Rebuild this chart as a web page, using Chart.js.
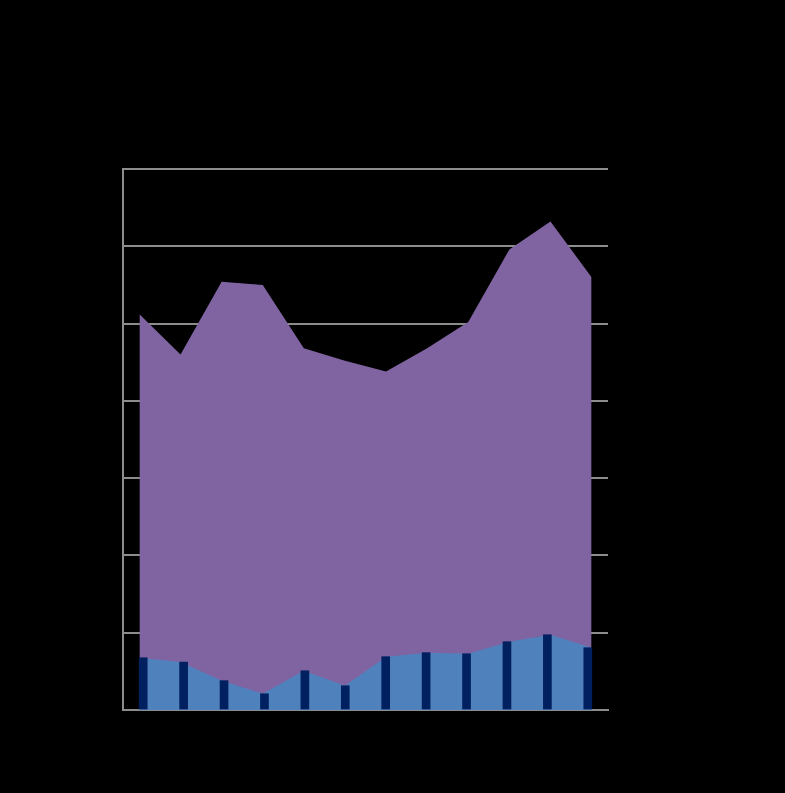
<!DOCTYPE html>
<html>
<head>
<meta charset="utf-8">
<script src="https://cdn.jsdelivr.net/npm/chart.js@4"></script>
<style>
  html, body { margin: 0; padding: 0; background: #000; }
  canvas { display: block; }
</style>
</head>
<body>
<canvas id="c" width="785" height="793"></canvas>
<script>
const categories = ["Jan","Feb","Mar","Apr","May","Jun","Jul","Aug","Sep","Oct","Nov","Dec"];
const totalValues = [25.6, 23.0, 27.7, 27.5, 23.4, 22.6, 21.9, 23.4, 25.1, 29.8, 31.6, 28.0];
const baseValues  = [3.38, 3.10, 1.90, 1.05, 2.54, 1.57, 3.45, 3.71, 3.64, 4.42, 4.87, 4.03];
const yTicks = [0, 5, 10, 15, 20, 25, 30, 35];

const toPoints = arr => arr.map((v, i) => ({ x: i, y: v }));

new Chart(document.getElementById('c'), {
  data: {
    labels: categories,
    datasets: [
      {
        type: 'bar',
        label: 'Series 3',
        data: baseValues,
        backgroundColor: '#002060',
        barThickness: 8,
        grouped: false,
        xAxisID: 'x',
        yAxisID: 'y',
        order: 0
      },
      {
        type: 'line',
        label: 'Series 2',
        data: toPoints(baseValues),
        backgroundColor: '#4f81bd',
        borderWidth: 0,
        pointRadius: 0,
        tension: 0,
        fill: 'origin',
        xAxisID: 'x2',
        yAxisID: 'y',
        order: 1
      },
      {
        type: 'line',
        label: 'Series 1',
        data: toPoints(totalValues),
        backgroundColor: '#8064a2',
        borderWidth: 0,
        pointRadius: 0,
        tension: 0,
        fill: 'origin',
        xAxisID: 'x2',
        yAxisID: 'y',
        order: 2
      }
    ]
  },
  options: {
    responsive: false,
    animation: false,
    layout: { padding: { top: 169, left: 0, right: 0, bottom: 0 } },
    plugins: { legend: { display: false }, tooltip: { enabled: false } },
    scales: {
      x: {
        type: 'category',
        position: 'bottom',
        offset: true,
        grid: { display: false },
        border: { display: true, color: '#8c8c8c', width: 2 },
        ticks: { color: '#000', font: { size: 12 } },
        afterFit: s => { s.height = 83; }
      },
      x2: {
        type: 'linear',
        display: false,
        min: -0.4,
        max: 11.4
      },
      yL: {
        type: 'linear',
        position: 'left',
        min: 0, max: 35,
        grid: { display: false },
        border: { display: true, color: '#8c8c8c', width: 2 },
        ticks: { display: false },
        afterFit: s => { s.width = 123; }
      },
      y: {
        type: 'linear',
        position: 'right',
        min: 0, max: 35,
        afterBuildTicks: s => { s.ticks = yTicks.map(v => ({ value: v })); },
        grid: { color: '#8c8c8c', lineWidth: 2, drawTicks: false },
        border: { display: false },
        ticks: { color: '#000', padding: 4, font: { size: 12 } },
        afterFit: s => { s.width = 177; }
      }
    }
  }
});
</script>
</body>
</html>
